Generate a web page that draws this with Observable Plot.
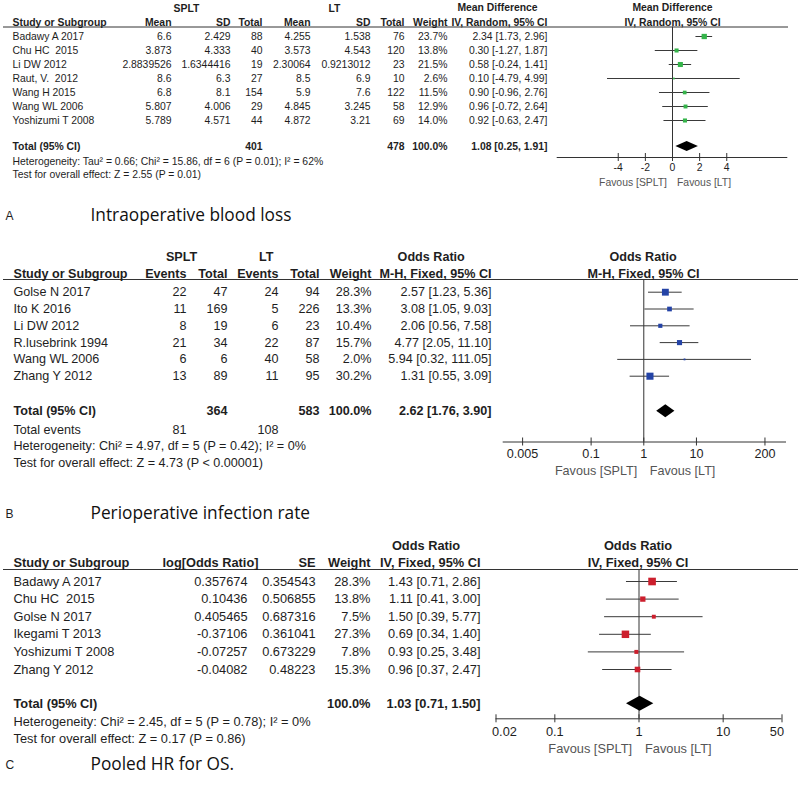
<!DOCTYPE html>
<html><head><meta charset="utf-8">
<script src="https://cdn.jsdelivr.net/npm/d3@7"></script>
<script src="https://cdn.jsdelivr.net/npm/@observablehq/plot@0.6"></script>
<style>
html,body{margin:0;padding:0;background:#fff;}
#root{position:relative;width:800px;height:795px;overflow:hidden;background:#fff;}
#root svg{position:absolute;left:0;}
#root svg text{white-space:pre;}
</style></head><body><div id="root"></div>
<script>
// ---------------- Panel A: Intraoperative blood loss ----------------
const studiesA = ["Badawy A 2017","Chu HC  2015","Li DW 2012","Raut, V.  2012","Wang H 2015","Wang WL 2006","Yoshizumi T 2008"];
const spltMeanA = [6.6, 3.873, 2.8839526, 8.6, 6.8, 5.807, 5.789];
const spltSdA = [2.429, 4.333, 1.6344416, 6.3, 8.1, 4.006, 4.571];
const spltNA = [88, 40, 19, 27, 154, 29, 44];
const ltMeanA = [4.255, 3.573, 2.30064, 8.5, 5.9, 4.845, 4.872];
const ltSdA = [1.538, 4.543, 0.9213012, 6.9, 7.6, 3.245, 3.21];
const ltNA = [76, 120, 23, 10, 122, 58, 69];
const weightA = [23.7, 13.8, 21.5, 2.6, 11.5, 12.9, 14.0];
const mdA = [2.34, 0.30, 0.58, 0.10, 0.90, 0.96, 0.92];
const loA = [1.73, -1.27, -0.24, -4.79, -0.96, -0.72, -0.63];
const hiA = [2.96, 1.87, 1.41, 4.99, 2.76, 2.64, 2.47];
const totalNA = [401, 478];
const pooledA = [1.08, 0.25, 1.91];
const ticksA = [-4, -2, 0, 2, 4];
const hetA = "Heterogeneity: Tau² = 0.66; Chi² = 15.86, df = 6 (P = 0.01); I² = 62%";
const testA = "Test for overall effect: Z = 2.55 (P = 0.01)";
const titleA = "Intraoperative blood loss";

// ---------------- Panel B: Perioperative infection rate ----------------
const studiesB = ["Golse N 2017","Ito K 2016","Li DW 2012","R.lusebrink 1994","Wang WL 2006","Zhang Y 2012"];
const spltEvB = [22, 11, 8, 21, 6, 13];
const spltNB = [47, 169, 19, 34, 6, 89];
const ltEvB = [24, 5, 6, 22, 40, 11];
const ltNB = [94, 226, 23, 87, 58, 95];
const weightB = [28.3, 13.3, 10.4, 15.7, 2.0, 30.2];
const orB = [2.57, 3.08, 2.06, 4.77, 5.94, 1.31];
const loB = [1.23, 1.05, 0.56, 2.05, 0.32, 0.55];
const hiB = [5.36, 9.03, 7.58, 11.10, 111.05, 3.09];
const totalNB = [364, 583];
const totalEvB = [81, 108];
const pooledB = [2.62, 1.76, 3.90];
const ticksB = [0.005, 0.1, 1, 10, 200];
const hetB = "Heterogeneity: Chi² = 4.97, df = 5 (P = 0.42); I² = 0%";
const testB = "Test for overall effect: Z = 4.73 (P < 0.00001)";
const titleB = "Perioperative infection rate";

// ---------------- Panel C: Pooled HR for OS ----------------
const studiesC = ["Badawy A 2017","Chu HC  2015","Golse N 2017","Ikegami T 2013","Yoshizumi T 2008","Zhang Y 2012"];
const logOrC = [0.357674, 0.10436, 0.405465, -0.37106, -0.07257, -0.04082];
const seC = [0.354543, 0.506855, 0.687316, 0.361041, 0.673229, 0.48223];
const weightC = [28.3, 13.8, 7.5, 27.3, 7.8, 15.3];
const orC = [1.43, 1.11, 1.50, 0.69, 0.93, 0.96];
const loC = [0.71, 0.41, 0.39, 0.34, 0.25, 0.37];
const hiC = [2.86, 3.00, 5.77, 1.40, 3.48, 2.47];
const pooledC = [1.03, 0.71, 1.50];
const ticksC = [0.02, 0.1, 1, 10, 50];
const hetC = "Heterogeneity: Chi² = 2.45, df = 5 (P = 0.78); I² = 0%";
const testC = "Test for overall effect: Z = 0.17 (P = 0.86)";
const titleC = "Pooled HR for OS.";

const favLeft = "Favous [SPLT]", favRight = "Favous [LT]";

// ---------------- drawing ----------------
const FONT = "'Liberation Sans', Arial, Helvetica, sans-serif";
const TITLE_FONT = "'Open Sans', 'Noto Sans', sans-serif";
const INK = "#1e1e1e";
const ci = (e, l, h) => `${e.toFixed(2)} [${l.toFixed(2)}, ${h.toFixed(2)}]`;
const pct = w => w.toFixed(1) + "%";

function buildPanel(c) {
  const W = 800, fs = c.fs;
  const mL = 3, mR = W - c.lineEnd;
  const mT = c.lineY - c.top, mB = c.top + c.height - c.axisY;
  const idx = py => (py - c.row0) / c.step;
  const I = d3.range(c.est.length);
  const totalIdx = idx(c.totalY), axisIdx = idx(c.axisY);
  const lab = (text, px, py, o = {}) => Plot.text([text], {
    text: d => d, frameAnchor: "top-left", lineAnchor: "middle",
    dx: px - mL, dy: py - c.lineY,
    textAnchor: o.anchor || "start", fontWeight: o.bold ? "bold" : "normal",
    fontSize: o.size || fs, fontFamily: o.family || FONT, fill: o.fill || INK
  });
  const col = (vals, px, anchor = "end", bold = false) => Plot.text(vals, {
    y: (d, i) => i, text: d => d, frameAnchor: "left", lineAnchor: "middle", dx: px - mL,
    textAnchor: anchor, fontWeight: bold ? "bold" : "normal", fill: INK, fontFamily: FONT, fontSize: fs
  });
  const tot = (text, px, anchor = "end") => Plot.text([text], {
    y: () => totalIdx, text: d => d, frameAnchor: "left", lineAnchor: "middle", dx: px - mL,
    textAnchor: anchor, fontWeight: "bold", fill: INK, fontFamily: FONT, fontSize: fs
  });
  const h = c.diaHalf / c.step;
  const [pe, pl, ph] = c.pooled;
  const diamond = [
    {y: totalIdx - h, x1: pe, x2: pe},
    {y: totalIdx, x1: pl, x2: ph},
    {y: totalIdx + h, x1: pe, x2: pe}
  ];
  const tk = 4 / c.step;
  const last = c.ticks.length - 1;
  const tickLabel = (sel, anchor, dx) => Plot.text(c.ticks.filter(sel), {
    x: d => d, y: () => axisIdx, dy: c.tickDy, dx, text: d => String(d), textAnchor: anchor,
    fill: INK, fontFamily: FONT, fontSize: fs, lineAnchor: "middle"
  });
  const ends = c.endLabels; // [dxFirst, dxLast] or null → centred
  const marks = [
    Plot.frame({anchor: "top", stroke: "#333"}),
    Plot.ruleX([c.ref], {stroke: "#333"}),
    Plot.ruleY(I, {y: i => i, x1: i => c.lo[i], x2: i => c.hi[i], stroke: "#3a3a3a"}),
    Plot.dot(I, {x: i => c.est[i], y: i => i, r: i => c.weight[i], symbol: "square", fill: c.color}),
    Plot.areaX(diamond, {y: "y", x1: "x1", x2: "x2", fill: "black", curve: "linear"}),
    Plot.ruleY([axisIdx], {x1: c.axisExt[0], x2: c.axisExt[1], stroke: "#333"}),
    Plot.ruleX(c.ticks, {x: d => d, y1: axisIdx - tk, y2: axisIdx + tk, stroke: "#333"}),
    ...(ends
      ? [tickLabel((d, i) => i > 0 && i < last, "middle", 0),
         tickLabel((d, i) => i === 0, "start", ends[0]),
         tickLabel((d, i) => i === last, "end", ends[1])]
      : [tickLabel(() => true, "middle", 0)]),
    Plot.text([favLeft], {x: () => c.ref, y: () => axisIdx, text: d => d, dy: c.favDy, dx: c.favDx[0], textAnchor: "end", fill: "#555", fontFamily: FONT, fontSize: fs}),
    Plot.text([favRight], {x: () => c.ref, y: () => axisIdx, text: d => d, dy: c.favDy, dx: c.favDx[1], textAnchor: "start", fill: "#555", fontFamily: FONT, fontSize: fs}),
    ...c.columns.map(([vals, px, anchor, bold]) => col(vals, px, anchor, bold)),
    ...c.totals.map(([t, px, anchor]) => tot(t, px, anchor)),
    ...c.labels.map(([t, px, py, o]) => lab(t, px, py, o))
  ];
  const svg = Plot.plot({
    width: W, height: c.height,
    marginTop: mT, marginBottom: mB, marginLeft: mL, marginRight: mR,
    x: {...c.x, axis: null},
    y: {type: "linear", domain: [idx(c.lineY), idx(c.axisY)], range: [mT, c.height - mB], axis: null},
    r: {type: "sqrt", domain: [0, d3.max(c.weight)], range: [0, c.rMax]},
    style: {fontFamily: FONT, fontSize: fs + "px", color: INK, background: "transparent", overflow: "visible"},
    marks
  });
  svg.style.top = c.top + "px";
  document.getElementById("root").appendChild(svg);
}

// Panel A
buildPanel({
  top: 0, height: 235, lineY: 26.5, lineEnd: 787, axisY: 157, row0: 36, step: 14, totalY: 146, fs: 10.4,
  x: {type: "linear", domain: [-8.5, 8.5], range: [556.7, 787.3]},
  ref: 0, ticks: ticksA, axisExt: [-8.5, 8.5], tickDy: 10, favDy: 25, favDx: [-5.5, 4.5], endLabels: null,
  est: mdA, lo: loA, hi: hiA, weight: weightA, color: "#35b44a", rMax: 3.0, diaHalf: 5, pooled: pooledA,
  columns: [
    [studiesA, 12, "start"],
    [spltMeanA.map(String), 171],
    [spltSdA.map(String), 230],
    [spltNA.map(String), 262],
    [ltMeanA.map(String), 310],
    [ltSdA.map(String), 370],
    [ltNA.map(String), 404],
    [weightA.map(pct), 447],
    [mdA.map((m, i) => ci(m, loA[i], hiA[i])), 547]
  ],
  totals: [["Total (95% CI)", 12, "start"], [String(totalNA[0]), 262], [String(totalNA[1]), 404], ["100.0%", 447], [ci(...pooledA), 547]],
  labels: [
    ["SPLT", 186, 8.3, {bold: true, anchor: "middle"}],
    ["LT", 334, 8.3, {bold: true, anchor: "middle"}],
    ["Mean Difference", 497, 7.5, {bold: true, anchor: "middle"}],
    ["Mean Difference", 672, 7.5, {bold: true, anchor: "middle"}],
    ["Study or Subgroup", 12, 22.3, {bold: true}],
    ["Mean", 171, 22.3, {bold: true, anchor: "end"}],
    ["SD", 230, 22.3, {bold: true, anchor: "end"}],
    ["Total", 262, 22.3, {bold: true, anchor: "end"}],
    ["Mean", 310, 22.3, {bold: true, anchor: "end"}],
    ["SD", 370, 22.3, {bold: true, anchor: "end"}],
    ["Total", 404, 22.3, {bold: true, anchor: "end"}],
    ["Weight", 447, 22.3, {bold: true, anchor: "end"}],
    ["IV, Random, 95% CI", 547, 22.3, {bold: true, anchor: "end"}],
    ["IV, Random, 95% CI", 672, 22.3, {bold: true, anchor: "middle"}],
    [hetA, 12, 161],
    [testA, 12, 174.3],
    ["A", 5, 216, {size: 12}],
    [titleA, 90, 215, {size: 17.3, family: TITLE_FONT, fill: "#111"}]
  ]
});

// Panel B
buildPanel({
  top: 235, height: 285, lineY: 279, lineEnd: 797, axisY: 441.5, row0: 291.7, step: 16.8, totalY: 410.8, fs: 12.6,
  x: {type: "log", domain: [0.00214, 513], range: [502.7, 786]},
  ref: 1, ticks: ticksB, axisExt: [0.00214, 513], tickDy: 11.8, favDy: 28.5, favDx: [-6.5, 6], endLabels: null,
  est: orB, lo: loB, hi: hiB, weight: weightB, color: "#2443a6", rMax: 4.0, diaHalf: 6.5, pooled: pooledB,
  columns: [
    [studiesB, 13, "start"],
    [spltEvB.map(String), 186],
    [spltNB.map(String), 227],
    [ltEvB.map(String), 278],
    [ltNB.map(String), 319],
    [weightB.map(pct), 371],
    [orB.map((m, i) => ci(m, loB[i], hiB[i])), 491]
  ],
  totals: [["Total (95% CI)", 13, "start"], [String(totalNB[0]), 227], [String(totalNB[1]), 319], ["100.0%", 371], [ci(...pooledB), 491]],
  labels: [
    ["SPLT", 181, 256.7, {bold: true, anchor: "middle"}],
    ["LT", 265.7, 256.7, {bold: true, anchor: "middle"}],
    ["Odds Ratio", 430.7, 256.3, {bold: true, anchor: "middle"}],
    ["Odds Ratio", 642.5, 256.3, {bold: true, anchor: "middle"}],
    ["Study or Subgroup", 13, 273, {bold: true}],
    ["Events", 186, 273, {bold: true, anchor: "end"}],
    ["Total", 227, 273, {bold: true, anchor: "end"}],
    ["Events", 278, 273, {bold: true, anchor: "end"}],
    ["Total", 319, 273, {bold: true, anchor: "end"}],
    ["Weight", 371, 273, {bold: true, anchor: "end"}],
    ["M-H, Fixed, 95% CI", 491, 273, {bold: true, anchor: "end"}],
    ["M-H, Fixed, 95% CI", 643, 273, {bold: true, anchor: "middle"}],
    ["Total events", 13, 429],
    [String(totalEvB[0]), 186, 429, {anchor: "end"}],
    [String(totalEvB[1]), 278, 429, {anchor: "end"}],
    [hetB, 13, 445.7],
    [testB, 13, 462.3],
    ["B", 5, 514, {size: 12}],
    [titleB, 90, 513, {size: 17.3, family: TITLE_FONT, fill: "#111"}]
  ]
});

// Panel C
buildPanel({
  top: 520, height: 275, lineY: 569, lineEnd: 797, axisY: 718.3, row0: 581, step: 17.6, totalY: 703.3, fs: 12.8,
  x: {type: "log", domain: [0.02, 50], range: [495.5, 781.5]},
  ref: 1, ticks: ticksC, axisExt: [0.02, 50], tickDy: 13.4, favDy: 30, favDx: [-7, 6], endLabels: [-4, 2],
  est: orC, lo: loC, hi: hiC, weight: weightC, color: "#cc1f2d", rMax: 4.3, diaHalf: 7.5, pooled: pooledC,
  columns: [
    [studiesC, 13, "start"],
    [logOrC.map(String), 247],
    [seC.map(String), 315],
    [weightC.map(pct), 370],
    [orC.map((m, i) => ci(m, loC[i], hiC[i])), 480]
  ],
  totals: [["Total (95% CI)", 13, "start"], ["100.0%", 370], [ci(...pooledC), 480]],
  labels: [
    ["Odds Ratio", 425.5, 545, {bold: true, anchor: "middle"}],
    ["Odds Ratio", 637.5, 545, {bold: true, anchor: "middle"}],
    ["Study or Subgroup", 13, 562, {bold: true}],
    ["log[Odds Ratio]", 258, 562, {bold: true, anchor: "end"}],
    ["SE", 315, 562, {bold: true, anchor: "end"}],
    ["Weight", 370, 562, {bold: true, anchor: "end"}],
    ["IV, Fixed, 95% CI", 480, 562, {bold: true, anchor: "end"}],
    ["IV, Fixed, 95% CI", 637.5, 562, {bold: true, anchor: "middle"}],
    [hetC, 13, 721.7],
    [testC, 13, 738],
    ["C", 5, 765, {size: 12}],
    [titleC, 90, 764, {size: 17.3, family: TITLE_FONT, fill: "#111"}]
  ]
});
</script>
</body></html>
